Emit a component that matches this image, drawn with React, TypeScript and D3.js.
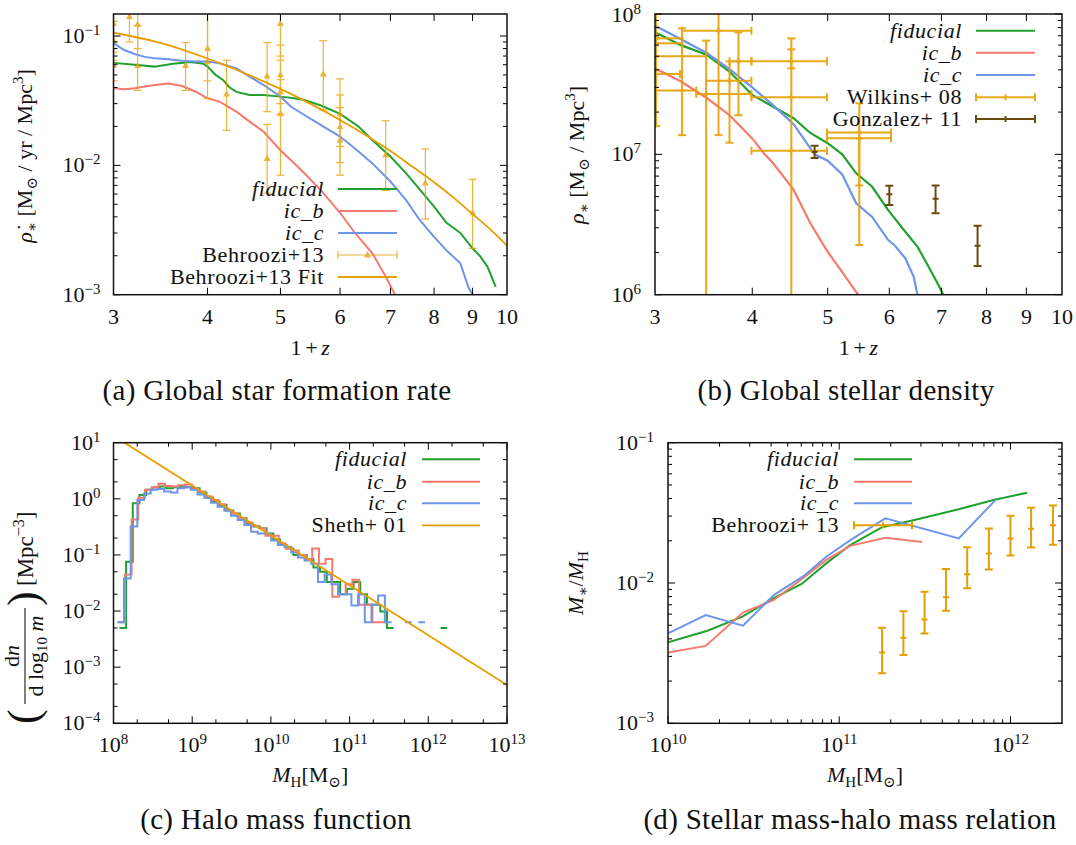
import React from "react";
import * as d3 from "d3";

const W = 1076;
const H = 845;
const FONT = '"Liberation Serif", "DejaVu Serif", serif';

const GREEN = "#22a12e";
const SALMON = "#f57a70";
const CORNFLOWER = "#6f95ea";
const ORANGE = "#e69f00";
const BROWN = "#6b4a0e";

// ---------- (a) global star formation rate density ----------
const sfrFidZ = [3.0, 3.2, 3.4, 3.6, 3.8, 3.95, 4.0, 4.1, 4.19, 4.28, 4.37, 4.55, 4.75, 5.0, 5.21, 5.38, 5.66, 6.0, 6.35, 6.62, 7.0, 7.34, 7.73, 8.0, 8.31, 8.67, 9.0, 9.22, 9.42, 9.66];
const sfrFid = [0.062, 0.06, 0.058, 0.061, 0.063, 0.061, 0.058, 0.05, 0.046, 0.04, 0.037, 0.035, 0.035, 0.034, 0.033, 0.032, 0.029, 0.025, 0.02, 0.0157, 0.0117, 0.0087, 0.0061, 0.0048, 0.0036, 0.003, 0.00228, 0.00197, 0.00165, 0.00115];

const sfrIcbZ = [3.0, 3.1, 3.2, 3.4, 3.55, 3.7, 3.86, 4.0, 4.15, 4.37, 4.55, 4.75, 5.0, 5.16, 5.38, 5.66, 6.0, 6.28, 6.62, 6.9, 7.1];
const sfrIcb = [0.0394, 0.0387, 0.0394, 0.0418, 0.043, 0.0411, 0.0371, 0.033, 0.0311, 0.026, 0.0218, 0.0182, 0.0131, 0.011, 0.0087, 0.0064, 0.0043, 0.003, 0.0021, 0.00138, 0.001];

const sfrIccZ = [3.0, 3.1, 3.2, 3.3, 3.4, 3.55, 3.7, 3.86, 4.0, 4.15, 4.37, 4.55, 4.75, 5.0, 5.16, 5.38, 5.66, 6.0, 6.28, 6.62, 7.0, 7.34, 7.65, 8.0, 8.31, 8.67, 8.88, 9.0];
const sfrIcc = [0.088, 0.078, 0.0726, 0.069, 0.0672, 0.066, 0.0645, 0.0634, 0.0634, 0.0615, 0.0562, 0.0485, 0.0418, 0.034, 0.0285, 0.0245, 0.0205, 0.0167, 0.0135, 0.0104, 0.0075, 0.0054, 0.0038, 0.0028, 0.0022, 0.00175, 0.00115, 0.001];

const behZ = [3.0, 3.0, 3.0, 3.15, 3.23, 3.23, 3.74, 4.0, 4.0, 4.24, 4.8, 4.8, 5.0, 5.0, 5.0, 5.0, 5.7, 6.0, 6.0, 6.0, 6.9, 7.79, 9.0];
const behSfr = [0.125, 0.093, 0.059, 0.141, 0.123, 0.059, 0.059, 0.08, 0.063, 0.0356, 0.049, 0.0113, 0.125, 0.05, 0.037, 0.025, 0.0508, 0.025, 0.0199, 0.0157, 0.012, 0.0073, 0.0043];
const behLo = [0.09, 0.065, 0.045, 0.09, 0.08, 0.038, 0.038, 0.045, 0.033, 0.0187, 0.026, 0.0061, 0.07, 0.03, 0.025, 0.0084, 0.0268, 0.014, 0.0105, 0.0084, 0.0064, 0.00385, 0.00228];
const behHi = [0.16, 0.13, 0.075, 0.2, 0.2, 0.12, 0.089, 0.2, 0.2, 0.065, 0.089, 0.0207, 0.2, 0.085, 0.065, 0.046, 0.092, 0.0466, 0.035, 0.028, 0.0221, 0.0134, 0.0078];

const fitZ = [3, 3.5, 4, 4.5, 5, 5.5, 6, 6.5, 7, 7.5, 8, 8.5, 9, 9.5, 10];
const fitSfr = [0.106, 0.087, 0.067, 0.051, 0.039, 0.0296, 0.0224, 0.017, 0.0129, 0.0097, 0.0074, 0.0056, 0.0042, 0.0032, 0.0024];

// ---------- (b) global stellar density ----------
const rhoFidZ = [3.0, 3.24, 3.5, 3.74, 4.0, 4.25, 4.52, 4.75, 5.0, 5.22, 5.44, 5.7, 5.98, 6.29, 6.52, 6.72, 6.9, 7.04];
const rhoFid = [7.4e7, 6.0e7, 5.1e7, 3.88e7, 2.65e7, 2.19e7, 1.81e7, 1.42e7, 1.2e7, 1.0e7, 7.33e6, 5.9e6, 4.0e6, 2.81e6, 2.2e6, 1.63e6, 1.24e6, 1.0e6];

const rhoIcbZ = [3.0, 3.24, 3.5, 3.74, 4.0, 4.15, 4.25, 4.52, 4.75, 5.0, 5.22, 5.47];
const rhoIcb = [4.1e7, 3.3e7, 2.51e7, 1.9e7, 1.3e7, 1.0e7, 8.7e6, 5.6e6, 3.23e6, 2.02e6, 1.45e6, 1.0e6];

const rhoIccZ = [3.0, 3.24, 3.5, 3.74, 4.0, 4.25, 4.52, 4.81, 5.0, 5.22, 5.44, 5.7, 5.98, 6.09, 6.29, 6.45, 6.52];
const rhoIcc = [8.26e7, 6.6e7, 5.25e7, 4.04e7, 3.0e7, 2.25e7, 1.64e7, 1.0e7, 9.0e6, 7.2e6, 4.48e6, 3.6e6, 2.45e6, 2.26e6, 1.82e6, 1.34e6, 1.0e6];

const wilZ = [3.01, 3.01, 3.01, 3.01, 3.25, 3.62, 3.49, 3.74, 3.84, 4.49, 4.49, 4.49, 5.49, 5.49];
const wilZlo = [2.98, 3.01, 3.01, 3.01, 3.01, 3.25, 3.39, 3.49, 3.74, 3.99, 3.99, 3.99, 4.99, 4.99];
const wilZhi = [3.25, 3.25, 3.49, 3.23, 3.39, 3.99, 3.99, 3.99, 3.99, 4.99, 4.99, 4.99, 6.03, 6.03];
const wilRho = [6.7e7, 6.18e7, 5.0e7, 3.74e7, 2.85e7, 7.6e7, 2.69e7, 3.35e7, 4.6e7, 4.6e7, 2.55e7, 1.06e7, 1.43e7, 1.3e7];
const wilLo = [1.59e7, 6.18e7, 5.0e7, 3.74e7, 1.37e7, 1.37e7, 1e5, 1.21e7, 1.9e7, 4.1e7, 1e5, 1.06e7, 6.0e6, 2.26e6];
const wilHi = [1.2e8, 6.18e7, 5.0e7, 3.74e7, 7.9e7, 1.2e8, 6.46e7, 4.6e7, 7.4e7, 5.6e7, 6.7e7, 1.06e7, 2.31e7, 1.3e7];

const gonZ = [4.81, 6.0, 6.88, 7.79];
const gonRho = [1.04e7, 5.2e6, 4.83e6, 2.23e6];
const gonLo = [9.4e6, 4.35e6, 3.8e6, 1.6e6];
const gonHi = [1.15e7, 5.98e6, 6.0e6, 3.1e6];

// ---------- (c) halo mass function (histograms in log10 m) ----------
const hmfBinWidth = 0.085;
const hmfFidStart = 8.075;
const hmfFid = [0.005, 0.076, 0.83, 1.17, 1.45, 1.6, 1.65, 1.55, 1.6, 1.65, 1.6, 1.55, 1.3, 1.05, 0.9, 0.78, 0.62, 0.55, 0.45, 0.36, 0.32, 0.3, 0.24, 0.19, 0.15, 0.13, 0.1, 0.1, 0.085, 0.06, 0.05, 0.033, 0.033, 0.02, 0.025, 0.033, 0.02, 0.013, 0.013, 0.0098, 0.005, 0, 0, 0, 0, 0, 0, 0, 0.005];
const hmfIcbStart = 8.06;
const hmfIcb = [0.0063, 0.045, 0.43, 1.05, 1.45, 1.6, 1.85, 1.7, 1.65, 1.75, 1.8, 1.5, 1.35, 1.1, 0.95, 0.8, 0.62, 0.55, 0.45, 0.38, 0.33, 0.3, 0.22, 0.22, 0.16, 0.13, 0.12, 0.1, 0.085, 0.13, 0.07, 0.085, 0.018, 0.02, 0.03, 0.036, 0.013, 0.013, 0.0063, 0.0063];
const hmfIccStart = 8.048;
const hmfIcc = [0.0063, 0.038, 0.32, 0.95, 1.25, 1.45, 1.5, 1.35, 1.3, 1.55, 1.6, 1.45, 1.2, 1.05, 0.85, 0.72, 0.62, 0.5, 0.42, 0.34, 0.26, 0.24, 0.24, 0.18, 0.15, 0.14, 0.11, 0.09, 0.08, 0.07, 0.033, 0.045, 0.03, 0.02, 0.02, 0.0125, 0.02, 0.0063, 0.013, 0.019, 0.0063, 0, 0, 0.0063, 0, 0.0063];

const shethM = [1e8, 1e9, 1e10, 1e11, 1e12, 1e13];
const shethN = [13.3, 1.72, 0.222, 0.0288, 0.0037, 4.8e-4];

// ---------- (d) stellar mass - halo mass relation ----------
const smFidM = [1e10, 1.7e10, 2.72e10, 4.15e10, 6.03e10, 8.4e10, 1.14e11, 1.78e11, 2.71e11, 4.99e11, 7.94e11, 1.25e12];
const smFid = [3.78e-3, 4.57e-3, 5.75e-3, 7.8e-3, 9.85e-3, 0.0138, 0.0184, 0.025, 0.028, 0.0335, 0.039, 0.044];
const smIcbM = [1e10, 1.66e10, 2.74e10, 4.15e10, 6.31e10, 8.4e10, 1.16e11, 1.86e11, 3.05e11];
const smIcb = [3.2e-3, 3.56e-3, 6.15e-3, 7.57e-3, 0.0111, 0.0146, 0.0184, 0.021, 0.0196];
const smIccM = [1e10, 1.66e10, 2.74e10, 4.15e10, 6.31e10, 8.4e10, 1.16e11, 1.86e11, 4.99e11, 8.17e11];
const smIcc = [4.38e-3, 5.9e-3, 4.97e-3, 8.2e-3, 0.0114, 0.0154, 0.0202, 0.0289, 0.0208, 0.039];
const bh13M = [1.78e11, 2.37e11, 3.15e11, 4.2e11, 5.59e11, 7.48e11, 1.0e12, 1.32e12, 1.77e12];
const bh13 = [3.2e-3, 4.07e-3, 5.5e-3, 7.9e-3, 0.01153, 0.0162, 0.0208, 0.0244, 0.0258];
const bh13Lo = [2.27e-3, 3.07e-3, 4.37e-3, 6.35e-3, 9.16e-3, 0.0125, 0.0157, 0.0179, 0.0187];
const bh13Hi = [4.8e-3, 6.3e-3, 8.67e-3, 0.0126, 0.018, 0.0245, 0.0302, 0.0344, 0.0357];

// ---------- layout ----------
type Box = { l: number; r: number; t: number; b: number };
const boxA: Box = { l: 113.5, r: 507, t: 14, b: 294.7 };
const boxB: Box = { l: 655, r: 1062, t: 14, b: 294.7 };
const boxC: Box = { l: 113.5, r: 507, t: 442.7, b: 723.3 };
const boxD: Box = { l: 668, r: 1062, t: 442.7, b: 723.3 };

const xA = d3.scaleLog().domain([3, 10]).range([boxA.l, boxA.r]);
const yA = d3.scaleLog().domain([1e-3, 0.148]).range([boxA.b, boxA.t]);
const xB = d3.scaleLog().domain([3, 10]).range([boxB.l, boxB.r]);
const yB = d3.scaleLog().domain([1e6, 1e8]).range([boxB.b, boxB.t]);
const xC = d3.scaleLog().domain([1e8, 1e13]).range([boxC.l, boxC.r]);
const yC = d3.scaleLog().domain([1e-4, 10]).range([boxC.b, boxC.t]);
const xD = d3.scaleLog().domain([1e10, 2e12]).range([boxD.l, boxD.r]);
const yD = d3.scaleLog().domain([1e-3, 0.1]).range([boxD.b, boxD.t]);

type Scale = (v: number) => number;

const LEG = 22;
const TICK = 22;
const TSP = "\u2006";

function logTicks(lo: number, hi: number, mults: number[]) {
  const out: number[] = [];
  for (let e = Math.floor(Math.log10(lo)) - 1; e <= Math.ceil(Math.log10(hi)); e++) {
    for (const m of mults) {
      const v = m * Math.pow(10, e);
      if (v >= lo * 1.0001 && v <= hi * 0.9999) out.push(v);
    }
  }
  return out;
}

function Frame(props: { box: Box; x: Scale; y: Scale; xMajor: number[]; xMinor: number[]; yMajor: number[]; yMinor: number[] }) {
  const { box, x, y } = props;
  const segs: JSX.Element[] = [];
  const add = (k: string, x1: number, y1: number, x2: number, y2: number) =>
    segs.push(<line key={k} x1={x1} y1={y1} x2={x2} y2={y2} />);
  props.xMajor.forEach((v, i) => {
    const p = x(v);
    add("xM" + i, p, box.b, p, box.b - 7);
    add("xMt" + i, p, box.t, p, box.t + 7);
  });
  props.xMinor.forEach((v, i) => {
    const p = x(v);
    add("xm" + i, p, box.b, p, box.b - 4);
    add("xmt" + i, p, box.t, p, box.t + 4);
  });
  props.yMajor.forEach((v, i) => {
    const p = y(v);
    add("yM" + i, box.l, p, box.l + 7, p);
    add("yMr" + i, box.r, p, box.r - 7, p);
  });
  props.yMinor.forEach((v, i) => {
    const p = y(v);
    add("ym" + i, box.l, p, box.l + 4, p);
    add("ymr" + i, box.r, p, box.r - 4, p);
  });
  return (
    <g stroke="#000" strokeWidth={1} fill="none">
      {segs}
      <rect x={box.l} y={box.t} width={box.r - box.l} height={box.b - box.t} strokeWidth={1.5} stroke="#111" />
    </g>
  );
}

function Pow({ x, y, exp, anchor }: { x: number; y: number; exp: string; anchor: string }) {
  return (
    <text x={x} y={y} textAnchor={anchor} fontSize={TICK}>
      10<tspan dy={-8} fontSize={15}>{exp}</tspan>
    </text>
  );
}

function expLabel(v: number) {
  const e = Math.round(Math.log10(v));
  return e < 0 ? "\u2212" + Math.abs(e) : String(e);
}

function linePath(xs: number[], ys: number[], x: Scale, y: Scale, curve?: d3.CurveFactory) {
  const gen = d3
    .line<number>()
    .x((_, i) => x(xs[i]))
    .y((_, i) => y(ys[i]));
  if (curve) gen.curve(curve);
  return gen(xs) || "";
}

function stepPaths(start: number, width: number, vals: number[], x: Scale, y: Scale) {
  const out: string[] = [];
  let i = 0;
  while (i < vals.length) {
    if (vals[i] <= 0) {
      i++;
      continue;
    }
    let d = `M${x(Math.pow(10, start + i * width))},${y(vals[i])}`;
    let j = i;
    while (j < vals.length && vals[j] > 0) {
      d += `H${x(Math.pow(10, start + (j + 1) * width))}`;
      if (j + 1 < vals.length && vals[j + 1] > 0) d += `V${y(vals[j + 1])}`;
      j++;
    }
    out.push(d);
    i = j;
  }
  return out;
}

function Tri({ cx, cy, fill, opacity }: { cx: number; cy: number; fill: string; opacity?: number }) {
  return <path d={`M${cx},${cy - 4}L${cx + 3.4},${cy + 2.4}L${cx - 3.4},${cy + 2.4}Z`} fill={fill} opacity={opacity} />;
}

function LegendText({ x, y, children, italic }: { x: number; y: number; children: React.ReactNode; italic?: boolean }) {
  return (
    <text x={x} y={y + 7} textAnchor="end" fontSize={LEG} letterSpacing={0.6} fontStyle={italic ? "italic" : "normal"}>
      {children}
    </text>
  );
}

function LegendLine({ x1, x2, y, color, w }: { x1: number; x2: number; y: number; color: string; w?: number }) {
  return <line x1={x1} x2={x2} y1={y} y2={y} stroke={color} strokeWidth={w ?? 2} />;
}

function LegendErr({ x1, x2, y, color, w, mark, opacity }: { x1: number; x2: number; y: number; color: string; w: number; mark: "tri" | "plus"; opacity?: number }) {
  const cx = (x1 + x2) / 2;
  return (
    <g opacity={opacity}>
      <g stroke={color} strokeWidth={w}>
        <line x1={x1} x2={x2} y1={y} y2={y} />
        <line x1={x1} x2={x1} y1={y - 4} y2={y + 4} />
        <line x1={x2} x2={x2} y1={y - 4} y2={y + 4} />
        {mark === "plus" && <line x1={cx} x2={cx} y1={y - 3} y2={y + 3} />}
      </g>
      {mark === "tri" && <Tri cx={cx} cy={y} fill={color} />}
    </g>
  );
}

function ClipRect({ id, box }: { id: string; box: Box }) {
  return (
    <clipPath id={id}>
      <rect x={box.l} y={box.t} width={box.r - box.l} height={box.b - box.t} />
    </clipPath>
  );
}

function ZTickLabels({ box, x }: { box: Box; x: Scale }) {
  return (
    <g fontSize={TICK} textAnchor="middle">
      {[3, 4, 5, 6, 7, 8, 9, 10].map((v) => (
        <text key={v} x={x(v)} y={box.b + 29}>
          {v}
        </text>
      ))}
    </g>
  );
}

function ZTitle({ box }: { box: Box }) {
  return (
    <text x={(box.l + box.r) / 2} y={355} textAnchor="middle" fontSize={22}>
      {"1" + TSP + "+" + TSP}
      <tspan fontStyle="italic">z</tspan>
    </text>
  );
}

function PanelA() {
  const yMajor = [1e-3, 1e-2, 1e-1];
  return (
    <g>
      <g clipPath="url(#clipA)" fill="none">
        <path d={linePath(sfrFidZ, sfrFid, xA, yA)} stroke={GREEN} strokeWidth={2} />
        <path d={linePath(sfrIcbZ, sfrIcb, xA, yA)} stroke={SALMON} strokeWidth={2} />
        <path d={linePath(sfrIccZ, sfrIcc, xA, yA)} stroke={CORNFLOWER} strokeWidth={2} />
        <g opacity={0.78}>
          {behZ.map((z, i) => {
            const px = xA(z);
            const lo = yA(behLo[i]);
            const hi = yA(behHi[i]);
            return (
              <g key={i}>
                <g stroke={ORANGE} strokeWidth={1.2}>
                  <line x1={px} x2={px} y1={lo} y2={hi} />
                  <line x1={px - 4} x2={px + 4} y1={lo} y2={lo} />
                  <line x1={px - 4} x2={px + 4} y1={hi} y2={hi} />
                </g>
                <Tri cx={px} cy={yA(behSfr[i])} fill={ORANGE} />
              </g>
            );
          })}
        </g>
        <path d={linePath(fitZ, fitSfr, xA, yA, d3.curveMonotoneX)} stroke={ORANGE} strokeWidth={1.8} />
      </g>
      <Frame box={boxA} x={xA} y={yA} xMajor={[4, 5, 6, 7, 8, 9]} xMinor={[]} yMajor={yMajor} yMinor={logTicks(1e-3, 0.148, [2, 3, 4, 5, 6, 7, 8, 9])} />
      {yMajor.map((v) => (
        <Pow key={v} x={boxA.l - 13} y={yA(v) + 7} exp={expLabel(v)} anchor="end" />
      ))}
      <ZTickLabels box={boxA} x={xA} />
      <ZTitle box={boxA} />
      <text transform={`translate(32,156) rotate(-90)`} textAnchor="middle" fontSize={22}>
        <tspan fontStyle="italic">{"\u03C1\u0307"}</tspan>
        <tspan fontSize={15} dy={5}>{"\u2217"}</tspan>
        <tspan dy={-5}>{" [M"}</tspan>
        <tspan fontSize={15} dy={5}>{"\u2299"}</tspan>
        <tspan dy={-5}>{" / yr / Mpc"}</tspan>
        <tspan fontSize={15} dy={-9}>3</tspan>
        <tspan dy={9}>]</tspan>
      </text>
      <LegendText x={324} y={189} italic>fiducial</LegendText>
      <LegendLine x1={338} x2={397} y={189} color={GREEN} />
      <LegendText x={324} y={211} italic>ic_b</LegendText>
      <LegendLine x1={338} x2={397} y={211} color={SALMON} />
      <LegendText x={324} y={233} italic>ic_c</LegendText>
      <LegendLine x1={338} x2={397} y={233} color={CORNFLOWER} />
      <LegendText x={324} y={255}>Behroozi+13</LegendText>
      <LegendErr x1={338} x2={397} y={255} color={ORANGE} w={1.2} mark="tri" opacity={0.78} />
      <LegendText x={324} y={277}>Behroozi+13 Fit</LegendText>
      <LegendLine x1={338} x2={397} y={277} color={ORANGE} w={1.8} />
    </g>
  );
}

function PanelB() {
  const yMajor = [1e6, 1e7, 1e8];
  return (
    <g>
      <g clipPath="url(#clipB)" fill="none">
        <path d={linePath(rhoFidZ, rhoFid, xB, yB)} stroke={GREEN} strokeWidth={2.2} />
        <path d={linePath(rhoIcbZ, rhoIcb, xB, yB)} stroke={SALMON} strokeWidth={2.2} />
        <path d={linePath(rhoIccZ, rhoIcc, xB, yB)} stroke={CORNFLOWER} strokeWidth={2.2} />
        <g stroke={ORANGE} strokeWidth={2} opacity={0.9}>
          {wilZ.map((z, i) => {
            const px = xB(z);
            const py = yB(wilRho[i]);
            const hasV = wilLo[i] !== wilHi[i];
            const hasH = wilZlo[i] !== wilZhi[i];
            const x0 = xB(wilZlo[i]);
            const x1 = xB(wilZhi[i]);
            const lo = yB(wilLo[i]);
            const hi = yB(wilHi[i]);
            return (
              <g key={i}>
                {hasV && <line x1={px} x2={px} y1={lo} y2={hi} />}
                {hasV && <line x1={px - 4} x2={px + 4} y1={lo} y2={lo} />}
                {hasV && <line x1={px - 4} x2={px + 4} y1={hi} y2={hi} />}
                {hasH && <line x1={x0} x2={x1} y1={py} y2={py} />}
                {hasH && <line x1={x0} x2={x0} y1={py - 4} y2={py + 4} />}
                {hasH && <line x1={x1} x2={x1} y1={py - 4} y2={py + 4} />}
                <line x1={px - 3} x2={px + 3} y1={py} y2={py} />
                <line x1={px} x2={px} y1={py - 3} y2={py + 3} />
              </g>
            );
          })}
        </g>
        <g stroke={BROWN} strokeWidth={2}>
          {gonZ.map((z, i) => {
            const px = xB(z);
            const py = yB(gonRho[i]);
            const lo = yB(gonLo[i]);
            const hi = yB(gonHi[i]);
            return (
              <g key={i}>
                <line x1={px} x2={px} y1={lo} y2={hi} />
                <line x1={px - 4} x2={px + 4} y1={lo} y2={lo} />
                <line x1={px - 4} x2={px + 4} y1={hi} y2={hi} />
                <line x1={px - 3} x2={px + 3} y1={py} y2={py} />
              </g>
            );
          })}
        </g>
      </g>
      <Frame box={boxB} x={xB} y={yB} xMajor={[4, 5, 6, 7, 8, 9]} xMinor={[]} yMajor={yMajor} yMinor={logTicks(1e6, 1e8, [2, 3, 4, 5, 6, 7, 8, 9])} />
      {yMajor.map((v) => (
        <Pow key={v} x={boxB.l - 14} y={yB(v) + (v === 1e8 ? 8 : 7)} exp={expLabel(v)} anchor="end" />
      ))}
      <ZTickLabels box={boxB} x={xB} />
      <ZTitle box={boxB} />
      <text transform={`translate(584,155) rotate(-90)`} textAnchor="middle" fontSize={22}>
        <tspan fontStyle="italic">{"\u03C1"}</tspan>
        <tspan fontSize={15} dy={5}>{"\u2217"}</tspan>
        <tspan dy={-5}>{" [M"}</tspan>
        <tspan fontSize={15} dy={5}>{"\u2299"}</tspan>
        <tspan dy={-5}>{" / Mpc"}</tspan>
        <tspan fontSize={15} dy={-9}>3</tspan>
        <tspan dy={9}>]</tspan>
      </text>
      <LegendText x={962} y={30.7} italic>fiducial</LegendText>
      <LegendLine x1={976} x2={1035} y={30.7} color={GREEN} />
      <LegendText x={962} y={52.7} italic>ic_b</LegendText>
      <LegendLine x1={976} x2={1035} y={52.7} color={SALMON} />
      <LegendText x={962} y={75} italic>ic_c</LegendText>
      <LegendLine x1={976} x2={1035} y={75} color={CORNFLOWER} />
      <LegendText x={962} y={97.3}>Wilkins+ 08</LegendText>
      <LegendErr x1={976} x2={1035} y={97.3} color={ORANGE} w={2} mark="plus" opacity={0.9} />
      <LegendText x={962} y={119}>Gonzalez+ 11</LegendText>
      <LegendErr x1={976} x2={1035} y={119} color={BROWN} w={2} mark="plus" />
    </g>
  );
}

function PanelC() {
  const yMajor = [1e-4, 1e-3, 1e-2, 1e-1, 1, 10];
  const xMajor = [1e8, 1e9, 1e10, 1e11, 1e12, 1e13];
  return (
    <g>
      <g clipPath="url(#clipC)" fill="none" strokeWidth={2}>
        {stepPaths(hmfFidStart, hmfBinWidth, hmfFid, xC, yC).map((d, i) => (
          <path key={"g" + i} d={d} stroke={GREEN} />
        ))}
        {stepPaths(hmfIcbStart, hmfBinWidth, hmfIcb, xC, yC).map((d, i) => (
          <path key={"r" + i} d={d} stroke={SALMON} />
        ))}
        {stepPaths(hmfIccStart, hmfBinWidth, hmfIcc, xC, yC).map((d, i) => (
          <path key={"b" + i} d={d} stroke={CORNFLOWER} />
        ))}
        <path d={linePath(shethM, shethN, xC, yC)} stroke={ORANGE} strokeWidth={1.8} />
      </g>
      <Frame box={boxC} x={xC} y={yC} xMajor={xMajor} xMinor={logTicks(1e8, 1e13, [2, 5])} yMajor={yMajor} yMinor={logTicks(1e-4, 10, [2, 5])} />
      {yMajor.map((v) => (
        <Pow key={v} x={boxC.l - 13} y={yC(v) + 7} exp={expLabel(v)} anchor="end" />
      ))}
      {xMajor.map((v) => (
        <Pow key={v} x={xC(v)} y={boxC.b + 29} exp={expLabel(v)} anchor="middle" />
      ))}
      <text x={(boxC.l + boxC.r) / 2} y={782} textAnchor="middle" fontSize={22}>
        <tspan fontStyle="italic">M</tspan>
        <tspan fontSize={15} dy={5}>H</tspan>
        <tspan dy={-5}>[M</tspan>
        <tspan fontSize={15} dy={5}>{"\u2299"}</tspan>
        <tspan dy={-5}>]</tspan>
      </text>
      <g transform="translate(25,608) rotate(-90)">
        <text x={-116} y={13} fontSize={44}>(</text>
        <text x={-48} y={-6} textAnchor="middle" fontSize={22}>
          d<tspan fontStyle="italic">n</tspan>
        </text>
        <line x1={-96} x2={0} y1={0} y2={0} stroke="#000" strokeWidth={1} />
        <text x={-48} y={18} textAnchor="middle" fontSize={22}>
          d log<tspan fontSize={15} dy={4}>10</tspan>
          <tspan dy={-4} fontStyle="italic">{" m"}</tspan>
        </text>
        <text x={2} y={13} fontSize={44}>)</text>
        <text x={22} y={8} fontSize={23}>
          [Mpc<tspan fontSize={16} dy={-9}>{"\u22123"}</tspan>
          <tspan dy={9}>]</tspan>
        </text>
      </g>
      <LegendText x={407} y={459.3} italic>fiducial</LegendText>
      <LegendLine x1={422} x2={480} y={459.3} color={GREEN} />
      <LegendText x={407} y={481.7} italic>ic_b</LegendText>
      <LegendLine x1={422} x2={480} y={481.7} color={SALMON} />
      <LegendText x={407} y={503.3} italic>ic_c</LegendText>
      <LegendLine x1={422} x2={480} y={503.3} color={CORNFLOWER} />
      <LegendText x={407} y={525.3}>Sheth+ 01</LegendText>
      <LegendLine x1={422} x2={480} y={525.3} color={ORANGE} w={1.8} />
    </g>
  );
}

function PanelD() {
  const yMajor = [1e-3, 1e-2, 1e-1];
  const xMajor = [1e10, 1e11, 1e12];
  return (
    <g>
      <g clipPath="url(#clipD)" fill="none" strokeWidth={2}>
        <path d={linePath(smFidM, smFid, xD, yD)} stroke={GREEN} />
        <path d={linePath(smIcbM, smIcb, xD, yD)} stroke={SALMON} />
        <path d={linePath(smIccM, smIcc, xD, yD)} stroke={CORNFLOWER} />
        <g stroke={ORANGE} strokeWidth={2}>
          {bh13M.map((m, i) => {
            const px = xD(m);
            const py = yD(bh13[i]);
            const lo = yD(bh13Lo[i]);
            const hi = yD(bh13Hi[i]);
            return (
              <g key={i}>
                <line x1={px} x2={px} y1={lo} y2={hi} />
                <line x1={px - 4} x2={px + 4} y1={lo} y2={lo} />
                <line x1={px - 4} x2={px + 4} y1={hi} y2={hi} />
                <line x1={px - 3} x2={px + 3} y1={py} y2={py} />
              </g>
            );
          })}
        </g>
      </g>
      <Frame box={boxD} x={xD} y={yD} xMajor={xMajor} xMinor={logTicks(1e10, 2e12, [2, 3, 4, 5, 6, 7, 8, 9])} yMajor={yMajor} yMinor={logTicks(1e-3, 0.1, [2, 3, 4, 5, 6, 7, 8, 9])} />
      {yMajor.map((v) => (
        <Pow key={v} x={boxD.l - 14} y={yD(v) + 7} exp={expLabel(v)} anchor="end" />
      ))}
      {xMajor.map((v) => (
        <Pow key={v} x={xD(v)} y={boxD.b + 29} exp={expLabel(v)} anchor="middle" />
      ))}
      <text x={(boxD.l + boxD.r) / 2} y={782} textAnchor="middle" fontSize={22}>
        <tspan fontStyle="italic">M</tspan>
        <tspan fontSize={15} dy={5}>H</tspan>
        <tspan dy={-5}>[M</tspan>
        <tspan fontSize={15} dy={5}>{"\u2299"}</tspan>
        <tspan dy={-5}>]</tspan>
      </text>
      <text transform={`translate(583,583) rotate(-90)`} textAnchor="middle" fontSize={22}>
        <tspan fontStyle="italic">M</tspan>
        <tspan fontSize={15} dy={5}>{"\u2217"}</tspan>
        <tspan dy={-5}>/</tspan>
        <tspan fontStyle="italic">M</tspan>
        <tspan fontSize={15} dy={5}>H</tspan>
      </text>
      <LegendText x={839} y={459.3} italic>fiducial</LegendText>
      <LegendLine x1={854} x2={912} y={459.3} color={GREEN} />
      <LegendText x={839} y={481.7} italic>ic_b</LegendText>
      <LegendLine x1={854} x2={912} y={481.7} color={SALMON} />
      <LegendText x={839} y={503.3} italic>ic_c</LegendText>
      <LegendLine x1={854} x2={912} y={503.3} color={CORNFLOWER} />
      <LegendText x={839} y={525.3}>Behroozi+ 13</LegendText>
      <LegendErr x1={854} x2={912} y={525.3} color={ORANGE} w={2} mark="plus" />
    </g>
  );
}

export default function App() {
  return (
    <svg
      width={W}
      height={H}
      viewBox={`0 0 ${W} ${H}`}
      style={{ position: "absolute", left: 0, top: 0, background: "#fff", fontFamily: FONT }}
    >
      <defs>
        <ClipRect id="clipA" box={boxA} />
        <ClipRect id="clipB" box={boxB} />
        <ClipRect id="clipC" box={boxC} />
        <ClipRect id="clipD" box={boxD} />
      </defs>
      <rect x={0} y={0} width={W} height={H} fill="#fff" />
      <g style={{ fontFamily: FONT }} fill="#111">
        <PanelA />
        <PanelB />
        <PanelC />
        <PanelD />
        <g fontSize={29} letterSpacing={0.3} textAnchor="middle">
          <text x={277} y={400}>(a) Global star formation rate</text>
          <text x={846} y={400}>(b) Global stellar density</text>
          <text x={276} y={829}>(c) Halo mass function</text>
          <text x={850} y={829}>(d) Stellar mass-halo mass relation</text>
        </g>
      </g>
    </svg>
  );
}
